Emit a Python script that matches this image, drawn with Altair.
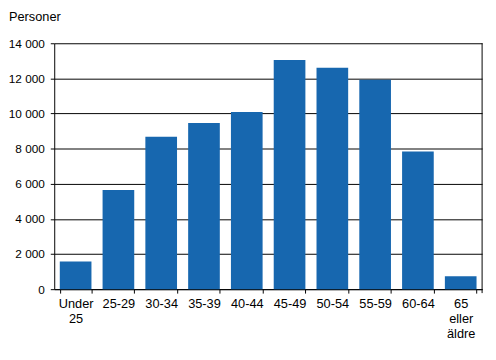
import altair as alt
import pandas as pd

categories = ["Under 25", "25-29", "30-34", "35-39", "40-44", "45-49",
              "50-54", "55-59", "60-64", "65 eller äldre"]
values = [1580, 5650, 8680, 9460, 10080, 13050, 12600, 11930, 7840, 730]
y_ticks = [0, 2000, 4000, 6000, 8000, 10000, 12000, 14000]

df = pd.DataFrame({"grupp": categories, "personer": values})

FONT = "Liberation Sans"
FS = 13
W, H = 435, 250

bars = alt.Chart(df).mark_bar(color="#1767AF").encode(
    x=alt.X("grupp:N", sort=categories, title=None,
            scale=alt.Scale(paddingInner=0.26, paddingOuter=0.13),
            axis=alt.Axis(labelAngle=0, tickBand="extent", domainColor="black",
                          tickColor="black", tickSize=4, labelPadding=5,
                          labelFont=FONT, labelFontSize=FS, labelColor="black",
                          labelLineHeight=15, labelBaseline="top",
                          labelExpr="split(datum.label, ' ')", grid=False)),
    y=alt.Y("personer:Q", title=None,
            scale=alt.Scale(domain=[0, 14000], nice=False),
            axis=alt.Axis(values=y_ticks, grid=True, gridColor="black",
                          gridOpacity=1, domainColor="black", tickColor="black",
                          tickSize=4, labelPadding=6, labelFont=FONT,
                          labelFontSize=12, labelColor="black",
                          labelExpr="replace(datum.label, ',', ' ')")),
)

right_border = alt.Chart(pd.DataFrame({"a": [0]})).mark_rule(color="black").encode(
    x=alt.value(W), y=alt.value(0), y2=alt.value(H + 4)
)

title = alt.Chart(pd.DataFrame({"t": ["Personer"]})).mark_text(
    align="left", baseline="middle", font=FONT, fontSize=FS, color="black"
).encode(x=alt.value(-46), y=alt.value(-27), text="t:N")

chart = alt.layer(bars, right_border, title).properties(
    width=W, height=H,
    autosize=alt.AutoSizeParams(type="none"),
    padding={"left": 47, "top": 33, "right": 6, "bottom": 60},
).configure_view(stroke=None).configure_axis(domainWidth=1, gridWidth=1)

chart.save("out.html", embed_options={"renderer": "svg", "actions": False})
